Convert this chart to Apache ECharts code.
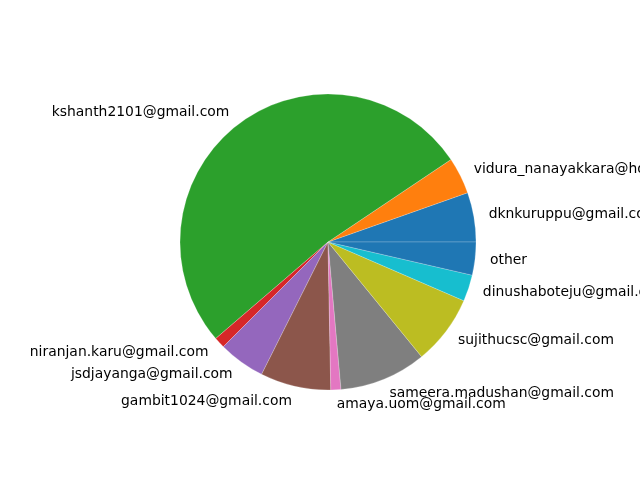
<!DOCTYPE html>
<html>
<head>
	<meta charset="utf-8">
	<title>pie</title>
	<script src="https://cdn.jsdelivr.net/npm/echarts@6/dist/echarts.min.js"></script>
	<style>
		html, body { margin: 0; padding: 0; background: #fff; }
		#chart { width: 640px; height: 480px; }
	</style>
</head>
<body>
<div id="chart"></div>
<script>
	// slices in matplotlib order (counter-clockwise from 3 o'clock)
	var names = [
		'dknkuruppu@gmail.com',
		'vidura_nanayakkara@hotmail.com',
		'kshanth2101@gmail.com',
		'niranjan.karu@gmail.com',
		'jsdjayanga@gmail.com',
		'gambit1024@gmail.com',
		'amaya.uom@gmail.com',
		'sameera.madushan@gmail.com',
		'sujithucsc@gmail.com',
		'dinushaboteju@gmail.com',
		'other'
	];
	var shares = [5.4, 4.0, 51.9, 1.2, 5.1, 7.7, 1.1, 9.5, 7.6, 2.9, 3.6];
	var colors = ['#1f77b4', '#ff7f0e', '#2ca02c', '#d62728', '#9467bd', '#8c564b',
		'#e377c2', '#7f7f7f', '#bcbd22', '#17becf', '#1f77b4'];

	var data = [];
	for (var i = 0; i < names.length; i++) {
		data.push({ name: names[i], value: shares[i], itemStyle: { color: colors[i] } });
	}

	var myChart = echarts.init(document.getElementById('chart'));
	myChart.setOption({
		animation: false,
		series: [{
			type: 'pie',
			center: [328, 242],
			radius: 148,
			startAngle: 0,
			clockwise: false,
			avoidLabelOverlap: false,
			labelLayout: { hideOverlap: false },
			itemStyle: { borderWidth: 0.6, borderColor: 'rgba(255,255,255,0.35)' },
			label: {
				show: true,
				position: 'outside',
				formatter: '{b}',
				fontFamily: 'DejaVu Sans',
				fontSize: 13.9,
				color: '#000',
				distanceToLabelLine: 0,
				overflow: 'none'
			},
			labelLine: { show: false, length: 15, length2: 0 },
			emphasis: { disabled: true },
			data: data
		}]
	});
</script>
</body>
</html>
